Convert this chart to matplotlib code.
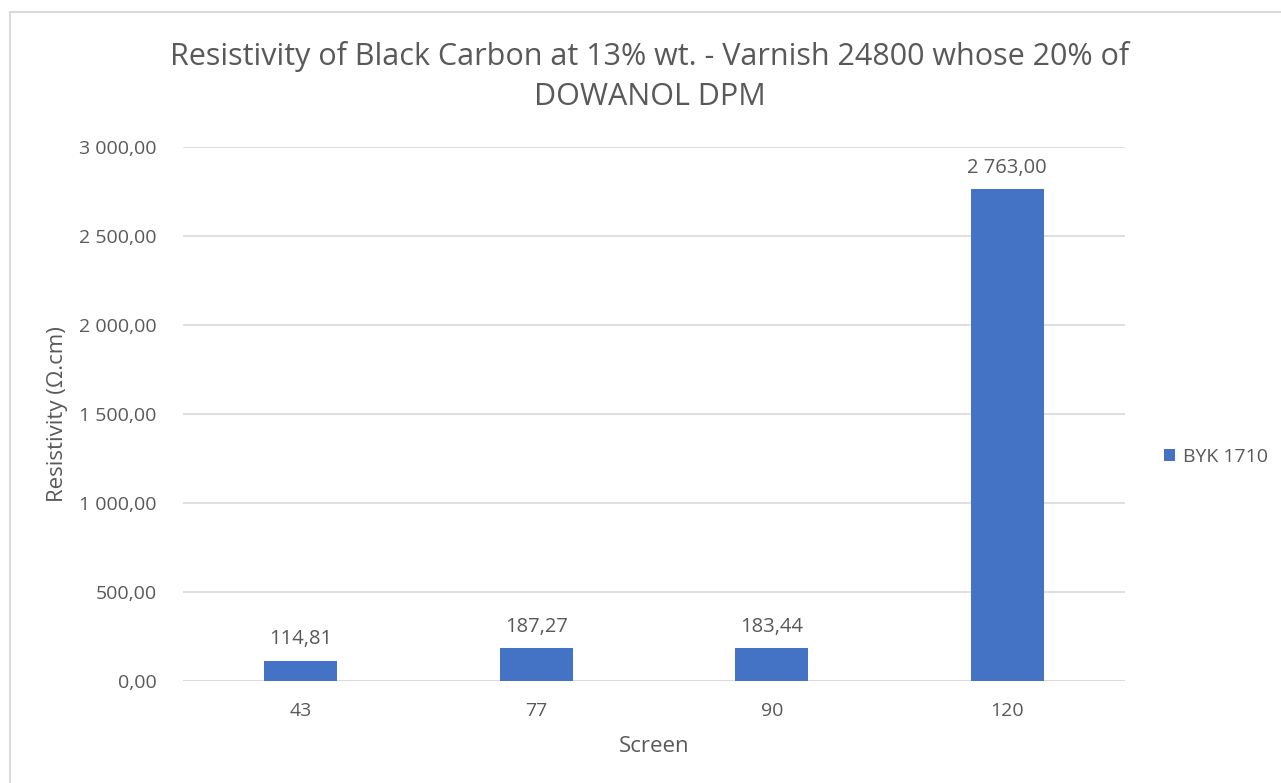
import matplotlib.pyplot as plt
from matplotlib.patches import Rectangle

screens = ["43", "77", "90", "120"]
resistivity = [114.81, 187.27, 183.44, 2763.00]
yticks = [0, 500, 1000, 1500, 2000, 2500, 3000]
series_name = "BYK 1710"

bar_color = "#4472C4"
text_color = "#595959"
grid_color = "#d9d9d9"

plt.rcParams["font.family"] = ["Open Sans", "DejaVu Sans"]


def fr(v):
    # french style number: space thousands, comma decimals
    s = "{:,.2f}".format(v)
    return s.replace(",", " ").replace(".", ",")


fig = plt.figure(figsize=(12.81, 7.83), dpi=100)
ax = fig.add_axes([183 / 1281, 1 - 681 / 783, (1125 - 183) / 1281, (681 - 147) / 783])

x = range(len(screens))
bars = ax.bar(x, resistivity, width=0.31, color=bar_color, label=series_name, zorder=3)

for b, v in zip(bars, resistivity):
    ax.annotate(fr(v), (b.get_x() + b.get_width() / 2, v), xytext=(0, 8),
                textcoords="offset points", ha="center", va="bottom",
                fontsize=14.5, color=text_color)

ax.set_xlim(-0.5, len(screens) - 0.5)
ax.set_ylim(0, 3000)
ax.set_yticks(yticks)
ax.set_yticklabels([fr(t) for t in yticks])
ax.set_xticks(list(x))
ax.set_xticklabels(screens)
ax.tick_params(axis="both", length=0, labelsize=14, labelcolor=text_color)
ax.tick_params(axis="y", pad=19)
ax.tick_params(axis="x", pad=15)
ax.yaxis.grid(True, color=grid_color, linewidth=1.2, zorder=0)
for sp in ax.spines.values():
    sp.set_visible(False)
ax.axhline(0, color=grid_color, linewidth=1.2, zorder=2)

ax.set_xlabel("Screen", fontsize=16, color=text_color, labelpad=12)
ax.set_ylabel("Resistivity (Ω.cm)", fontsize=16, color=text_color, labelpad=8)

fig.suptitle("Resistivity of Black Carbon at 13% wt. - Varnish 24800 whose 20% of\nDOWANOL DPM",
             x=650 / 1281, y=1 - 41 / 783, fontsize=22, color=text_color, linespacing=1.45)

ax.legend(loc="center left", bbox_to_anchor=(1146 / 1281, 1 - 457 / 783),
          bbox_transform=fig.transFigure, frameon=False, fontsize=14,
          handlelength=0.6, handleheight=0.6, handletextpad=0.4, labelcolor=text_color)

fig.patches.append(Rectangle((10 / 1281, -0.01), 1.02, 1 - 12 / 783 + 0.01,
                             transform=fig.transFigure, fill=False,
                             edgecolor="#d9d9d9", linewidth=1.5))

fig.savefig("out.png", dpi=100)
